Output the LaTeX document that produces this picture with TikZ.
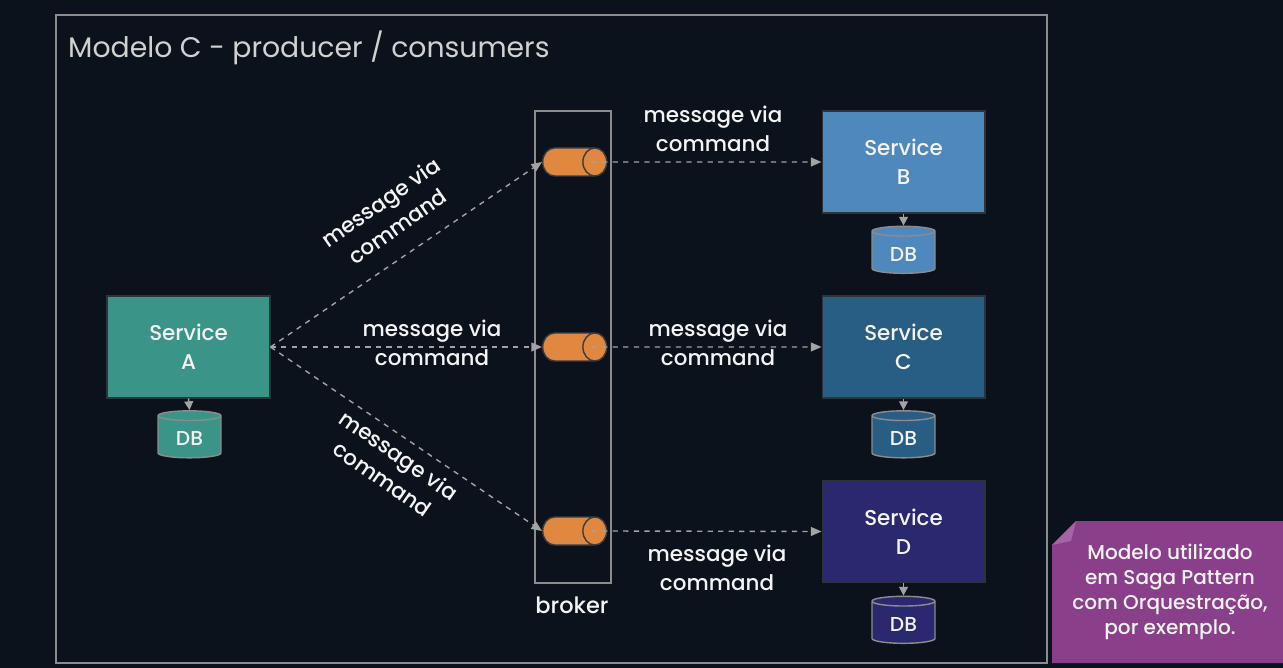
\documentclass[tikz,border=0pt]{standalone}
\usepackage{fontspec}
\setmainfont{Poppins}
\newfontfamily\medfont{Poppins Medium}
\usetikzlibrary{shapes.geometric,arrows.meta,positioning}

\definecolor{bgdark}{HTML}{0B121B}
\definecolor{framegray}{HTML}{8C8C8C}
\definecolor{linegray}{HTML}{A3A3A3}
\definecolor{svcteal}{HTML}{3B9488}
\definecolor{svcblue}{HTML}{4F88BD}
\definecolor{svcsteel}{HTML}{285E84}
\definecolor{svcindigo}{HTML}{2A296F}
\definecolor{queueorange}{HTML}{E0883F}
\definecolor{notepurple}{HTML}{8A3F8A}
\definecolor{notefold}{HTML}{A565A5}
\definecolor{txtlight}{HTML}{F4F4F4}

\tikzset{
  service/.style={draw=bgdark!70!gray, line width=0.6pt, minimum width=3.26cm,
    minimum height=2.04cm, align=center, text=txtlight,
    font=\medfont\fontsize{12.2}{16.5}\selectfont},
  database/.style={cylinder, shape border rotate=90, shape aspect=0.25,
    draw=framegray, line width=0.8pt, minimum width=1.26cm, minimum height=0.94cm,
    text=txtlight, font=\medfont\fontsize{11.5}{13}\selectfont},
  queue/.style={cylinder, shape aspect=0.85, draw=bgdark!60!gray, line width=0.8pt,
    fill=queueorange, inner ysep=0.28cm, inner xsep=0pt, minimum height=1.28cm,
    anchor=west},
  msglabel/.style={align=center, text=txtlight, font=\medfont\fontsize{12.2}{16.5}\selectfont},
  msg/.style={draw=linegray, dashed, line width=0.8pt, -{Triangle[length=6pt,width=5pt]}},
  store/.style={draw=linegray, line width=0.9pt, -{Triangle[length=5pt,width=5pt]}}
}

\begin{document}
\begin{tikzpicture}[x=0.02cm, y=-0.02cm]
  % background and frame
  \fill[bgdark] (0,0) rectangle (1283,668);
  \useasboundingbox (0,0) rectangle (1283,668);
  \draw[framegray, line width=1.4pt] (56,15) rectangle (1047,663);
  \node[anchor=west, text=framegray!40!white, font=\fontsize{16.1}{19}\selectfont]
       (title) at (62,48) {Modelo C - producer / consumers};

  % producer
  \node[service, fill=svcteal] (svcA) at (188.5,347) {Service\\A};
  \node[database, fill=svcteal] (dbA) at (189.5,438.5) {DB};

  % broker and queues
  \node[draw=framegray, line width=1pt, minimum width=1.52cm, minimum height=9.44cm]
       (broker) at (573,347) {};
  \node[text=txtlight, font=\medfont\fontsize{12.8}{15}\selectfont] (brokerlbl) at (572,605) {broker};
  \node[queue] (q1) at (542,162) {};
  \node[queue] (q2) at (542,347) {};
  \node[queue] (q3) at (542,531) {};

  % consumers
  \node[service, fill=svcblue] (svcB) at (903.5,162) {Service\\B};
  \node[service, fill=svcsteel] (svcC) at (903.5,347) {Service\\C};
  \node[service, fill=svcindigo] (svcD) at (903.5,531.5) {Service\\D};
  \node[database, fill=svcblue] (dbB) at (903.5,254) {DB};
  \node[database, fill=svcsteel] (dbC) at (903.5,438.5) {DB};
  \node[database, fill=svcindigo] (dbD) at (903.5,624) {DB};

  % producer -> queues
  \draw[msg] (svcA.east) -- (q1.west);
  \draw[msg] (svcA.east) -- (q2.west);
  \draw[msg] (svcA.east) -- (q3.west);
  \node[msglabel, rotate=35] (lbl1) at (389,214) {message via\\command};
  \node[msglabel] (lbl2) at (432,343) {message via\\command};
  \node[msglabel, rotate=-35] (lbl3) at (391,467) {message via\\command};

  % queues -> consumers
  \draw[msg, shorten <=-9pt] (q1.east) -- (svcB.west);
  \draw[msg, shorten <=-9pt] (q2.east) -- (svcC.west);
  \draw[msg, shorten <=-9pt] (q3.east) -- (svcD.west);
  \node[msglabel] (lbl4) at (713,129) {message via\\command};
  \node[msglabel] (lbl5) at (718,343) {message via\\command};
  \node[msglabel] (lbl6) at (717,568) {message via\\command};

  % services -> databases
  \draw[store] (svcA.south) -- (dbA.top);
  \draw[store] (svcB.south) -- (dbB.top);
  \draw[store] (svcC.south) -- (dbC.top);
  \draw[store] (svcD.south) -- (dbD.top);

  % note
  \fill[notepurple] (1052,545) -- (1076,521) -- (1283,521) -- (1283,663) -- (1052,663) -- cycle;
  \fill[notefold] (1052,545) -- (1076,521) -- (1071,541) -- cycle;
  \node[align=center, text=txtlight, font=\medfont\fontsize{11.4}{14.2}\selectfont]
       (note) at (1170,592) {Modelo utilizado\\em Saga Pattern\\com Orquestração,\\por exemplo.};
\end{tikzpicture}
\end{document}
